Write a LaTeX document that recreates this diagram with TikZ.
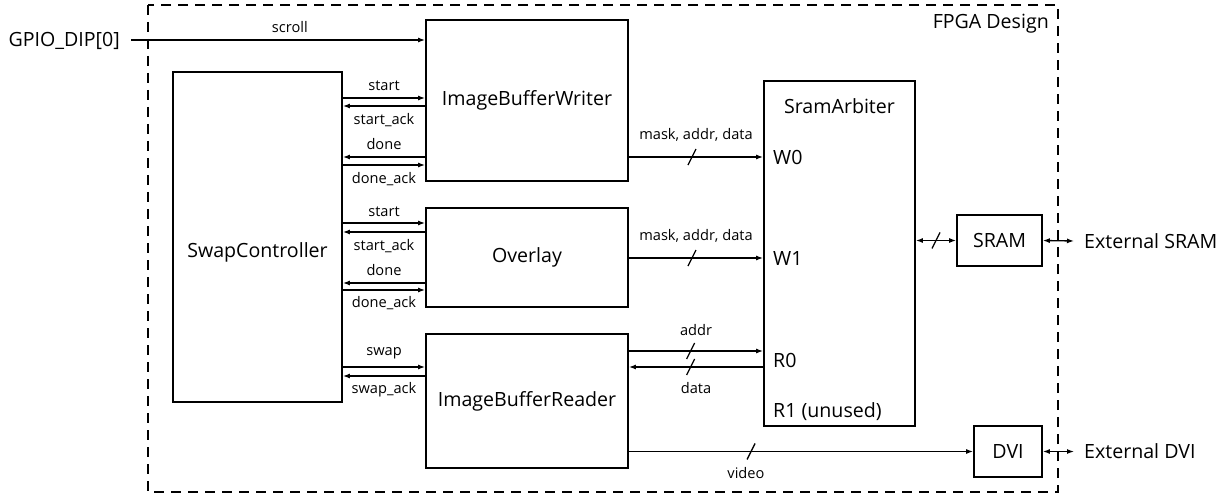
\documentclass[tikz,border=0pt]{standalone}
\usepackage{fontspec}
\setmainfont{Open Sans}
\usetikzlibrary{arrows.meta}

\begin{document}
\begin{tikzpicture}[
    x=1pt, y=-1pt,
    font=\fontsize{19.6}{22}\selectfont,
    block/.style={draw, line width=1.7pt, inner sep=0pt},
    sig/.style={-{Latex[length=7pt,width=5pt]}, line width=1.3pt},
    bisig/.style={{Latex[length=7pt,width=5pt]}-{Latex[length=7pt,width=5pt]}, line width=1.3pt},
    lbl/.style={font=\fontsize{14.6}{16}\selectfont, inner sep=1pt},
    port/.style={anchor=base west, inner sep=0pt},
    ext/.style={anchor=west, inner sep=0pt},
    frame/.style={draw, line width=1.4pt, dash pattern=on 10pt off 7pt},
    pics/busmark/.style={code={\draw[-, line width=1.3pt] (-4,8) -- (4,-8);}}
]
\useasboundingbox (0,0) rectangle (1231,497);

% FPGA boundary
\draw[frame] (148,5) rectangle (1058,492);
\node[anchor=base east, inner sep=0pt] (fpga) at (1049,29) {FPGA Design};

% blocks
\node[block, minimum width=169pt, minimum height=330pt,
      label={[yshift=-15pt]center:SwapController}] (swc) at (257.5,237) {};
\node[block, minimum width=202pt, minimum height=161pt] (ibw) at (527,100.5) {ImageBufferWriter};
\node[block, minimum width=202pt, minimum height=99pt] (ovl) at (527,257.5) {Overlay};
\node[block, minimum width=202pt, minimum height=134pt] (ibr) at (527,401) {ImageBufferReader};
\node[block, minimum width=151pt, minimum height=345pt] (arb) at (839.5,253.5) {};
\node[block, minimum width=85pt, minimum height=51pt] (sram) at (999.5,240.5) {SRAM};
\node[block, minimum width=68pt, minimum height=51pt] (dvi) at (1008,451.5) {DVI};

% arbiter ports
\node[anchor=base, inner sep=0pt] (arbname) at (839.5,114) {SramArbiter};
\node[port] (w0) at (773,165) {W0};
\node[port] (w1) at (773,265) {W1};
\node[port] (r0) at (773,367) {R0};
\node[port] (r1) at (773,417) {R1 (unused)};

% external pins
\node[anchor=base east, inner sep=0pt] (gpio) at (120,47) {GPIO\_DIP[0]};
\node[ext] (extsram) at (1084,241) {External SRAM};
\node[ext] (extdvi) at (1084,451.5) {External DVI};

\draw[sig] ([xshift=11pt]gpio.east |- 0,40) -- (ibw.west |- 0,40) node[lbl, pos=.54, above=6pt] {scroll};

% handshakes
\draw[sig] (swc.east |- 0,98) -- (ibw.west |- 0,98) node[lbl, midway, above=6pt] {start};
\draw[sig] (ibw.west |- 0,106) -- (swc.east |- 0,106) node[lbl, midway, below=6pt] {start\_ack};
\draw[sig] (ibw.west |- 0,157) -- (swc.east |- 0,157) node[lbl, midway, above=6pt] {done};
\draw[sig] (swc.east |- 0,165) -- (ibw.west |- 0,165) node[lbl, midway, below=6pt] {done\_ack};

\draw[sig] (swc.east |- 0,223) -- (ovl.west |- 0,223) node[lbl, midway, above=5pt] {start};
\draw[sig] (ovl.west |- 0,232) -- (swc.east |- 0,232) node[lbl, midway, below=6pt] {start\_ack};
\draw[sig] (ovl.west |- 0,283) -- (swc.east |- 0,283) node[lbl, midway, above=6pt] {done};
\draw[sig] (swc.east |- 0,290) -- (ovl.west |- 0,290) node[lbl, midway, below=5pt] {done\_ack};

\draw[sig] (swc.east |- 0,367) -- (ibr.west |- 0,367) node[lbl, midway, above=6pt] {swap};
\draw[sig] (ibr.west |- 0,376) -- (swc.east |- 0,376) node[lbl, midway, below=5pt] {swap\_ack};

% buses to the arbiter
\draw[sig] (ibw.east |- 0,157) -- (arb.west |- 0,157) pic[pos=.47]{busmark} node[lbl, midway, above=14pt] {mask, addr, data};
\draw[sig] (ovl.east |- 0,258) -- (arb.west |- 0,258) pic[pos=.47]{busmark} node[lbl, midway, above=14pt] {mask, addr, data};
\draw[sig] (ibr.east |- 0,351) -- (arb.west |- 0,351) pic[pos=.46]{busmark} node[lbl, midway, above=14pt] {addr};
\draw[sig] (arb.west |- 0,367) -- (ibr.east |- 0,367) pic[pos=.54]{busmark} node[lbl, midway, below=14pt] {data};

% memory and video
\draw[bisig] (arb.east |- sram.west) -- (sram.west) pic[pos=.5]{busmark};
\draw[bisig] (sram.east) -- ([xshift=-10pt]extsram.west);
\draw[sig] (ibr.east |- dvi.west) -- (dvi.west) pic[pos=.355]{busmark} node[lbl, pos=.34, below=14pt] {video};
\draw[bisig] (dvi.east) -- ([xshift=-10pt]extdvi.west);
\end{tikzpicture}
\end{document}
